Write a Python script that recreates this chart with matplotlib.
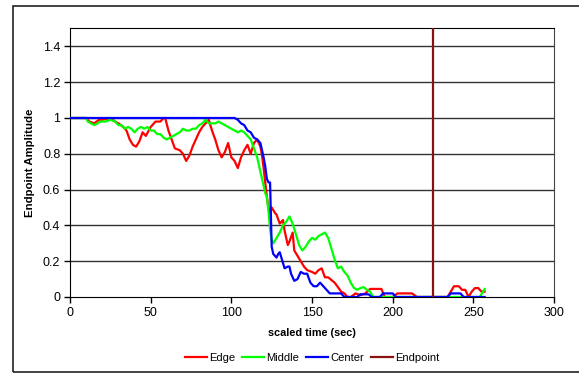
import matplotlib.pyplot as plt
from matplotlib.patches import Rectangle

plt.rcParams['font.family'] = ['Liberation Sans', 'DejaVu Sans']

# Edge (red)
edge_x = [0, 10, 12, 15, 18, 20, 25, 28, 30, 33, 35, 37, 39, 41, 43, 45, 47, 50, 53, 56,
          58, 59, 61, 63, 65, 68, 70, 72, 74, 76, 78, 80, 82, 84, 86, 88, 90, 92, 94, 96,
          98, 100, 102, 104, 106, 108, 110, 112, 114, 116, 118, 119, 120, 121, 122, 123,
          124, 125, 127, 128, 130, 132, 133, 135, 136, 138, 139, 141, 143, 145, 147, 150,
          152, 154, 156, 158, 160, 162, 164, 166, 168, 170, 172, 174, 177, 180, 183, 186,
          188, 190, 193, 195, 200, 203, 208, 212, 215, 225, 230, 234, 236, 238, 241, 243,
          245, 247, 249, 251, 253, 255, 257]
edge_y = [1.0, 1.0, 0.98, 0.97, 0.99, 0.99, 1.0, 0.98, 0.97, 0.95, 0.93, 0.88, 0.85, 0.84,
          0.87, 0.92, 0.90, 0.95, 0.98, 0.98, 1.0, 1.0, 0.93, 0.88, 0.83, 0.82, 0.80, 0.76,
          0.79, 0.84, 0.88, 0.92, 0.95, 0.97, 0.99, 0.93, 0.88, 0.82, 0.78, 0.81, 0.86, 0.78,
          0.76, 0.72, 0.78, 0.82, 0.85, 0.80, 0.86, 0.88, 0.84, 0.79, 0.72, 0.64, 0.56, 0.50,
          0.47, 0.50, 0.47, 0.46, 0.41, 0.43, 0.37, 0.29, 0.31, 0.36, 0.26, 0.23, 0.20, 0.17,
          0.15, 0.14, 0.13, 0.15, 0.16, 0.11, 0.11, 0.095, 0.08, 0.056, 0.03, 0.02, 0.0, 0.0,
          0.02, 0.01, 0.02, 0.045, 0.045, 0.045, 0.045, 0.0, 0.0, 0.02, 0.02, 0.02, 0.0, 0.0,
          0.0, 0.0, 0.03, 0.06, 0.06, 0.04, 0.04, 0.0, 0.03, 0.05, 0.05, 0.03, 0.03]

# Middle (green)
middle_x = [0, 10, 11, 13, 15, 17, 19, 22, 25, 28, 30, 32, 34, 36, 38, 40, 42, 44, 46, 48,
            50, 52, 54, 56, 58, 60, 62, 64, 66, 68, 70, 72, 74, 76, 78, 80, 82, 84, 86, 88,
            90, 92, 94, 96, 98, 100, 102, 104, 106, 108, 110, 112, 114, 116, 118, 119, 120,
            121, 122, 123, 124, 125, 126, 128, 130, 132, 134, 136, 137, 138, 140, 142, 144,
            146, 148, 150, 152, 154, 156, 158, 160, 162, 164, 166, 168, 170, 172, 174, 176,
            178, 180, 182, 184, 186, 188, 230, 250, 254, 256, 257]
middle_y = [1.0, 1.0, 0.98, 0.97, 0.96, 0.97, 0.98, 0.98, 0.99, 0.98, 0.96, 0.96, 0.94,
            0.95, 0.94, 0.92, 0.94, 0.95, 0.94, 0.95, 0.93, 0.93, 0.91, 0.91, 0.89, 0.88,
            0.89, 0.90, 0.91, 0.92, 0.94, 0.93, 0.93, 0.94, 0.94, 0.96, 0.97, 0.99, 0.97,
            0.97, 0.97, 0.98, 0.97, 0.96, 0.95, 0.94, 0.93, 0.92, 0.93, 0.92, 0.90, 0.88,
            0.83, 0.78, 0.70, 0.66, 0.62, 0.58, 0.56, 0.48, 0.38, 0.32, 0.30, 0.33, 0.36,
            0.40, 0.42, 0.45, 0.43, 0.41, 0.35, 0.29, 0.26, 0.28, 0.31, 0.33, 0.32, 0.34,
            0.35, 0.36, 0.33, 0.27, 0.21, 0.16, 0.17, 0.14, 0.12, 0.08, 0.05, 0.04, 0.05,
            0.055, 0.04, 0.03, 0.0, 0.0, 0.0, 0.0, 0.03, 0.045]

# Center (blue)
center_x = [0, 102, 104, 106, 108, 110, 112, 114, 116, 118, 119, 120, 121, 122, 123, 124,
            125, 126, 127, 128, 129, 130, 131, 133, 135, 136, 137, 139, 141, 143, 145, 147,
            149, 151, 153, 155, 157, 159, 161, 165, 168, 170, 178, 180, 185, 187, 192, 194,
            200, 202, 234, 236, 242, 244, 257]
center_y = [1.0, 1.0, 0.99, 0.97, 0.96, 0.93, 0.92, 0.89, 0.88, 0.86, 0.82, 0.78, 0.73,
            0.66, 0.64, 0.64, 0.28, 0.24, 0.23, 0.22, 0.24, 0.25, 0.22, 0.16, 0.17, 0.17,
            0.13, 0.09, 0.10, 0.14, 0.13, 0.13, 0.08, 0.06, 0.06, 0.08, 0.06, 0.04, 0.02,
            0.02, 0.02, 0.0, 0.0, 0.015, 0.015, 0.0, 0.0, 0.02, 0.02, 0.0, 0.0, 0.02, 0.02,
            0.0, 0.0]

endpoint_x = 225
x_ticks = [0, 50, 100, 150, 200, 250, 300]
y_ticks = [0, 0.2, 0.4, 0.6, 0.8, 1.0, 1.2, 1.4]
y_labels = ['0', '0.2', '0.4', '0.6', '0.8', '1', '1.2', '1.4']

fig = plt.figure(figsize=(5.79, 3.73), dpi=100)
ax = fig.add_axes([0.1209, 0.2038, 0.836, 0.7198])

# outer chart border
fig.patches.append(Rectangle((0.0225, 0.003), 1.0, 0.981, transform=fig.transFigure,
                             fill=False, edgecolor='#222222', linewidth=1.2))

for y in y_ticks[1:]:
    ax.axhline(y, color='#333333', linewidth=1.0, zorder=1)

ax.plot(edge_x, edge_y, color='#ff0000', linewidth=1.6, label='Edge', zorder=3)
ax.plot(middle_x, middle_y, color='#00ff00', linewidth=1.6, label='Middle', zorder=3)
ax.plot(center_x, center_y, color='#0000ff', linewidth=1.6, label='Center', zorder=4)
ax.plot([endpoint_x, endpoint_x], [0, 1.5], color='#8b1111', linewidth=1.6, label='Endpoint', zorder=5)

ax.set_xlim(0, 300)
ax.set_ylim(0, 1.5)
ax.set_xticks(x_ticks)
ax.set_yticks(y_ticks)
ax.set_yticklabels(y_labels)
ax.tick_params(direction='out', length=4, width=1, labelsize=9, pad=3, color='black')
for side in ['left', 'bottom', 'top']:
    ax.spines[side].set_color('black')
ax.spines['right'].set_color('#444444')

fig.text(0.539, 0.107, 'scaled time (sec)', ha='center', va='center', fontsize=7.8, fontweight='bold')
fig.text(0.052, 0.563, 'Endpoint Amplitude', ha='center', va='center', rotation=90,
         fontsize=8.2, fontweight='bold')

fig.legend(loc='center', bbox_to_anchor=(0.539, 0.04), ncol=4, frameon=False, fontsize=8,
           handlelength=2.0, handletextpad=0.2, columnspacing=0.6)

fig.savefig('out.png', dpi=100)
